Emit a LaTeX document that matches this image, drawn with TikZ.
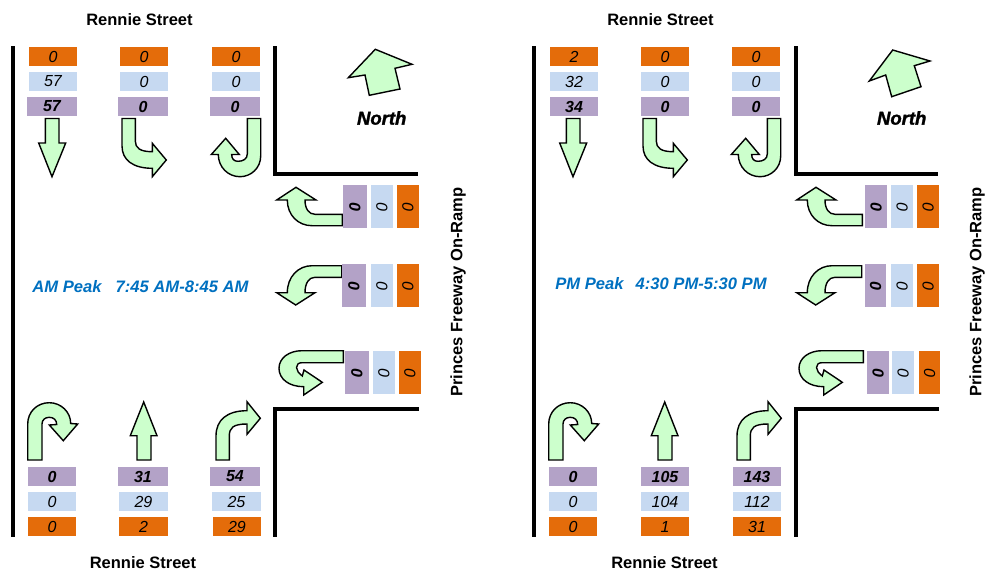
\documentclass[tikz,border=0pt]{standalone}
\usepackage{fontspec}
\setmainfont{Liberation Sans}
\newfontfamily\heavyfont[FakeBold=1.6,ItalicFont={Liberation Sans Bold Italic},UprightFont={Liberation Sans Bold Italic}]{Liberation Sans}
\definecolor{cOrange}{HTML}{E46C0A}
\definecolor{cBlue}{HTML}{C6D9F1}
\definecolor{cPurple}{HTML}{B3A2C7}
\definecolor{cTurn}{HTML}{CCFFCC}
\definecolor{cPeak}{HTML}{0070C0}
\tikzset{
  road/.style={draw=black,line width=4pt,line cap=butt,line join=miter},
  turn/.style={draw=black,fill=cTurn,line width=1.4pt,line join=miter},
  cell/.style={inner sep=0pt,outer sep=0pt,font=\fontsize{16}{16}\selectfont\itshape,text=black},
  oCell/.style={cell,fill=cOrange},
  bCell/.style={cell,fill=cBlue},
  pCell/.style={cell,fill=cPurple,font=\fontsize{16}{16}\selectfont\bfseries\itshape},
  street/.style={inner sep=0pt,font=\fontsize{16.5}{16}\selectfont\bfseries},
  peak/.style={font=\fontsize{16.6}{16}\selectfont\bfseries\itshape,text=cPeak},
  northlabel/.style={font=\fontsize{18.5}{18}\selectfont\heavyfont},
}
% name, x1, y1, x2, y2, style, text
\newcommand{\hcell}[7]{\node[#6,minimum width=#4pt-#2pt,minimum height=#5pt-#3pt] (#1) at ({(#2+#4)/2},{(#3+#5)/2}) {#7};}
\newcommand{\vcell}[6]{\node[#6,minimum width=#4pt-#2pt,minimum height=43pt] (#1) at ({(#2+#4)/2},{(#3+#5)/2}) {\rotatebox{-90}{0}};}
\newcommand{\ArrS}{(45.3,118.5) -- (59,118.5) -- (59,143) -- (65.7,143) -- (52,176.7) -- (38.7,143) -- (45.3,143) -- cycle}
\newcommand{\ArrSE}{(122,118.5) -- (135.3,118.5) -- (135.3,141) .. controls (135.3,148) and (140,151.7) .. (152.3,151.7) -- (152.3,143.3) -- (166.3,160) -- (152.3,176.7) -- (152.3,168.3) .. controls (133,168.3) and (122,160) .. (122,146) -- cycle}
\newcommand{\ArrSU}{(247.3,118.5) -- (260.7,118.5) -- (260.7,156) .. controls (260.7,168) and (251,176.7) .. (240,176.7) .. controls (228,176.7) and (218.3,167) .. (218.3,154.5) -- (211.3,154.5) -- (225.7,138.3) -- (239.3,154.5) -- (231.7,154.5) .. controls (231.7,159) and (234,161.3) .. (238,161.3) .. controls (243,161.3) and (247.3,159) .. (247.3,154) -- cycle}
\newcommand{\ArrWa}{(342.3,214.3) -- (315,214.3) .. controls (309,214.3) and (305,209) .. (305,200) -- (316,200) -- (296,187.3) -- (276.7,200) -- (287.3,200) .. controls (287.3,215) and (298,225.7) .. (312,225.7) -- (342.3,225.7) -- cycle}
\newcommand{\ArrWb}{(341.7,265.7) -- (312,265.7) .. controls (298,265.7) and (287.3,277) .. (287.3,292.7) -- (276.7,292.7) -- (295.7,305) -- (315,292.7) -- (305,292.7) .. controls (305,283) and (309,277.3) .. (315,277.3) -- (341.7,277.3) -- cycle}
\newcommand{\ArrWc}{(343.3,350.7) -- (302,350.7) .. controls (289,350.7) and (279,358) .. (279,368.3) .. controls (279,379) and (289,386.7) .. (303.7,386.7) -- (303.7,395) -- (322.3,382.3) -- (304,370) -- (302.3,376) .. controls (299,373) and (296.5,371) .. (296.5,367.5) .. controls (296.5,364.5) and (298.5,362.7) .. (302,362.7) -- (343.3,362.7) -- cycle}
\newcommand{\ArrNU}{(27.7,460) -- (42,460) -- (42,424) .. controls (42,420) and (45,417.3) .. (49.3,417.3) .. controls (53.5,417.3) and (56.7,420) .. (56.7,424.5) -- (49.3,425) -- (63.3,440.7) -- (77.7,424) -- (70.7,423.5) .. controls (70.7,412) and (61,402.7) .. (49.3,402.7) .. controls (37,402.7) and (27.7,412) .. (27.7,424) -- cycle}
\newcommand{\ArrN}{(137,460) -- (151,460) -- (151,435.7) -- (157,435.7) -- (143.7,402) -- (130.3,435.7) -- (137,435.7) -- cycle}
\newcommand{\ArrNE}{(216,460) -- (229.3,460) -- (229.3,436) .. controls (229.3,428) and (233,424) .. (247,424) -- (247,434.3) -- (260.3,418.3) -- (247,401.7) -- (247,410.7) .. controls (227,410.7) and (216,420) .. (216,436) -- cycle}
\begin{document}
\begin{tikzpicture}[x=1pt,y=-1pt]
\useasboundingbox (0,0) rectangle (986,570);
% ---- left panel
\draw[road] (12.5,46) -- (12.5,537);
\draw[road] (275,46) -- (275,174) -- (418,174);
\draw[road] (419,408.7) -- (275,408.7) -- (275,537);
\foreach \p in {\ArrS,\ArrSE,\ArrSU,\ArrWa,\ArrWb,\ArrWc,\ArrNU,\ArrN,\ArrNE}{\draw[turn] \p;}
\draw[turn] (375.3,49.3) -- (412,64.3) -- (395,68.3) -- (400,89) -- (369.3,95.3) -- (365,75) -- (348.3,77.7) -- cycle;
\node[street] (lTop) at (139.5,19.5) {Rennie Street};
\node[street] (lBot) at (143,562.3) {Rennie Street};
\node[street,rotate=90] (lSide) at (458,292) {Princes Freeway On-Ramp};
\node[northlabel] (lNorth) at (381.7,118) {North};
\node[peak] (lPeak) at (140.5,286.6) {AM Peak\hspace{14pt}7:45 AM-8:45 AM};
\hcell{la1}{29}{47}{77}{66}{oCell}{0}
\hcell{la2}{29}{72}{77}{91}{bCell}{57}
\hcell{la3}{27}{97}{77}{116}{pCell}{57}
\hcell{lb1}{120}{47}{168}{66}{oCell}{0}
\hcell{lb2}{120}{72}{168}{91}{bCell}{0}
\hcell{lb3}{118}{97}{168}{116}{pCell}{0}
\hcell{lc1}{212}{47}{260}{66}{oCell}{0}
\hcell{lc2}{212}{72}{260}{91}{bCell}{0}
\hcell{lc3}{210}{97}{260}{116}{pCell}{0}
\hcell{ld1}{28}{467}{76}{486}{pCell}{0}
\hcell{ld2}{28}{492}{76}{511}{bCell}{0}
\hcell{ld3}{28}{517}{76}{536}{oCell}{0}
\hcell{le1}{118}{467}{168}{486}{pCell}{31}
\hcell{le2}{119}{492}{168}{511}{bCell}{29}
\hcell{le3}{119}{517}{168}{536}{oCell}{2}
\hcell{lf1}{210}{467}{260}{486}{pCell}{54}
\hcell{lf2}{212}{492}{261}{511}{bCell}{25}
\hcell{lf3}{213}{517}{261}{536}{oCell}{29}
\vcell{lg1}{343}{185}{367}{228}{pCell}
\vcell{lg2}{371}{185}{393}{228}{bCell}
\vcell{lg3}{397}{185}{419}{228}{oCell}
\vcell{lh1}{342}{264}{366}{307}{pCell}
\vcell{lh2}{371}{264}{393}{307}{bCell}
\vcell{lh3}{397}{264}{419}{307}{oCell}
\vcell{li1}{345}{351}{369}{394}{pCell}
\vcell{li2}{373}{351}{395}{394}{bCell}
\vcell{li3}{399}{351}{421}{394}{oCell}
% ---- right panel
\draw[road] (533.5,46) -- (533.5,537);
\draw[road] (795.5,46) -- (795.5,174) -- (938,174);
\draw[road] (939,408.7) -- (795.5,408.7) -- (795.5,537);
\begin{scope}[xshift=521pt]
\foreach \p in {\ArrS,\ArrSE,\ArrNU,\ArrN,\ArrNE}{\draw[turn] \p;}
\end{scope}
\begin{scope}[xshift=520pt]
\foreach \p in {\ArrSU,\ArrWa,\ArrWb,\ArrWc}{\draw[turn] \p;}
\end{scope}
\draw[turn] (892.7,50) -- (930,61) -- (914.3,65.7) -- (921,86.7) -- (891.7,96.7) -- (885.7,75) -- (869.3,81) -- cycle;
\node[street] (rTop) at (660.5,19.5) {Rennie Street};
\node[street] (rBot) at (664.5,562.3) {Rennie Street};
\node[street,rotate=90] (rSide) at (977,292) {Princes Freeway On-Ramp};
\node[northlabel] (rNorth) at (901.7,118) {North};
\node[peak] (rPeak) at (661,284) {PM Peak\hspace{12pt}4:30 PM-5:30 PM};
\hcell{ra1}{550}{47}{598}{66}{oCell}{2}
\hcell{ra2}{550}{72}{598}{91}{bCell}{32}
\hcell{ra3}{550}{97}{598}{116}{pCell}{34}
\hcell{rb1}{641}{47}{689}{66}{oCell}{0}
\hcell{rb2}{641}{72}{689}{91}{bCell}{0}
\hcell{rb3}{641}{97}{689}{116}{pCell}{0}
\hcell{rc1}{732}{47}{780}{66}{oCell}{0}
\hcell{rc2}{732}{72}{780}{91}{bCell}{0}
\hcell{rc3}{732}{97}{780}{116}{pCell}{0}
\hcell{rd1}{549}{467}{597}{486}{pCell}{0}
\hcell{rd2}{549}{492}{597}{511}{bCell}{0}
\hcell{rd3}{549}{517}{597}{536}{oCell}{0}
\hcell{re1}{641}{467}{689}{486}{pCell}{105}
\hcell{re2}{641}{492}{689}{511}{bCell}{104}
\hcell{re3}{641}{517}{689}{536}{oCell}{1}
\hcell{rf1}{733}{467}{781}{486}{pCell}{143}
\hcell{rf2}{733}{492}{781}{511}{bCell}{112}
\hcell{rf3}{733}{517}{781}{536}{oCell}{31}
\vcell{rg1}{865}{185}{887}{228}{pCell}
\vcell{rg2}{891}{185}{913}{228}{bCell}
\vcell{rg3}{917}{185}{939}{228}{oCell}
\vcell{rh1}{865}{264}{886}{307}{pCell}
\vcell{rh2}{891}{264}{913}{307}{bCell}
\vcell{rh3}{917}{264}{939}{307}{oCell}
\vcell{ri1}{867}{351}{889}{394}{pCell}
\vcell{ri2}{892}{351}{914}{394}{bCell}
\vcell{ri3}{919}{351}{940}{394}{oCell}
\end{tikzpicture}
\end{document}
